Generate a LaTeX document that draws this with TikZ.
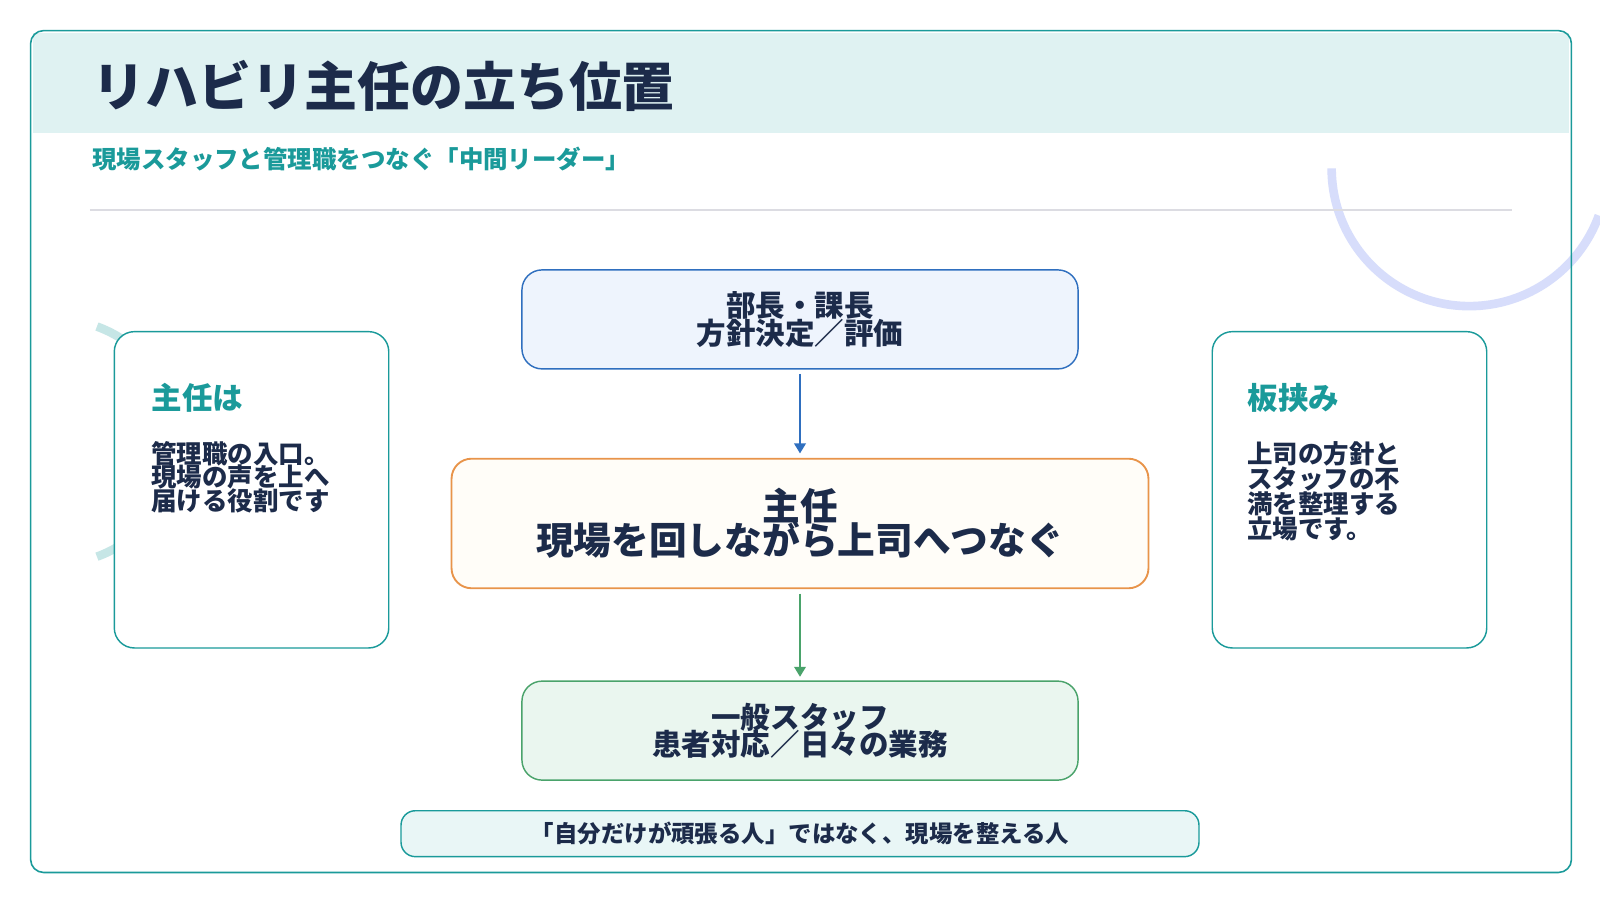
\documentclass[tikz,border=0pt]{standalone}
\usepackage{fontspec}
\setmainfont{Noto Sans CJK JP}
\usetikzlibrary{positioning,arrows.meta}
\definecolor{navy}{HTML}{1C2B4A}
\definecolor{teal}{HTML}{1A9A9A}
\definecolor{headbg}{HTML}{DFF2F2}
\definecolor{bluebd}{HTML}{2F6FBF}
\definecolor{bluebg}{HTML}{EEF4FD}
\definecolor{orangebd}{HTML}{E8944A}
\definecolor{orangebg}{HTML}{FFFDF8}
\definecolor{greenbd}{HTML}{4AA36B}
\definecolor{greenbg}{HTML}{EAF6EF}
\newcommand{\px}[1]{\fontsize{\fpeval{#1*1.42}}{\fpeval{#1*1.75}}\selectfont\bfseries}

\begin{document}
\begin{tikzpicture}[
    x=0.5mm, y=-0.5mm,
    RBox/.style={
        draw, line width=2pt, rounded corners=28pt,
        text=navy, align=center
    },
    Side/.style={
        draw=teal, fill=white, line width=2pt, rounded corners=28pt
    },
    Flow/.style={
        -{Triangle[length=14pt,width=16pt]}, line width=3pt
    }
    ]
    \useasboundingbox (0,0) rectangle (1568,882);
    \fill[white] (0,0) rectangle (1568,882);
    % header and frame
    \fill[headbg] (32,32) rectangle (1538,130);
    \draw[headbg!70!blue!40, line width=12pt] (1305,165) arc (180:20:135);
    \draw[teal!25, line width=12pt] (95,320) arc (-70:70:120);
    \draw[teal, line width=2.2pt, rounded corners=18pt] (30,30) rectangle (1540,855);
    \node[anchor=west, text=navy] (title) at (88,84) {\px{52}リハビリ主任の立ち位置};
    \node[anchor=west, text=teal] (sub) at (88,156) {\px{24}現場スタッフと管理職をつなぐ「中間リーダー」};
    \draw[blue!10!gray!25, line width=2pt] (88,206) -- (1482,206);

    % flow
    \node[RBox, draw=bluebd, fill=bluebg, minimum width=545*0.5mm, minimum height=97*0.5mm]
        (boss) at (784,313) {\px{29}部長・課長\\[-2pt]\px{29}方針決定／評価};
    \node[RBox, draw=orangebd, fill=orangebg, line width=2.6pt, minimum width=683*0.5mm, minimum height=127*0.5mm]
        (chief) at (784,513) {\px{37}主任\\[-4pt]\px{37}現場を回しながら上司へつなぐ};
    \node[RBox, draw=greenbd, fill=greenbg, minimum width=545*0.5mm, minimum height=97*0.5mm]
        (staff) at (784,716) {\px{29}一般スタッフ\\[-2pt]\px{29}患者対応／日々の業務};
    \draw[Flow, bluebd] ([yshift=-6pt]boss.south) -- ([yshift=6pt]chief.north);
    \draw[Flow, greenbd] ([yshift=-6pt]chief.south) -- ([yshift=5pt]staff.north);

    % side panels
    \draw[Side] (112,325) rectangle (381,635);
    \node[anchor=west, text=teal] (lt) at (146,390) {\px{30}主任は};
    \node[anchor=north west, text=navy, align=left] (lb) at (146,430)
        {\px{25}管理職の入口。\\[-2pt]\px{25}現場の声を上へ\\[-2pt]\px{25}届ける役割です};
    \draw[Side] (1188,325) rectangle (1457,635);
    \node[anchor=west, text=teal] (rt) at (1220,390) {\px{30}板挟み};
    \node[anchor=north west, text=navy, align=left] (rb) at (1220,430)
        {\px{25}上司の方針と\\[0pt]\px{25}スタッフの不\\[0pt]\px{25}満を整理する\\[0pt]\px{25}立場です。};

    % footer
    \node[draw=teal, fill=headbg!70, line width=2pt, rounded corners=20pt, text=navy,
        minimum width=782*0.5mm, minimum height=45*0.5mm] (note) at (784,817)
        {\px{23}「自分だけが頑張る人」ではなく、現場を整える人};
\end{tikzpicture}
\end{document}
